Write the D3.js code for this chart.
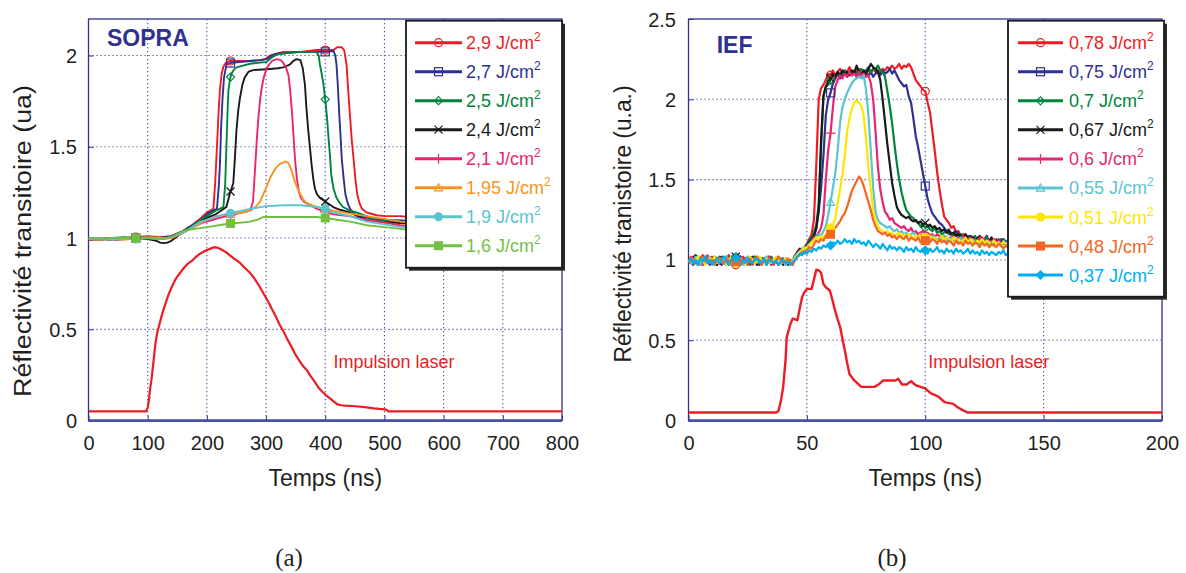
<!DOCTYPE html>
<html><head><meta charset="utf-8">
<script src="https://cdn.jsdelivr.net/npm/d3@7"></script>
<style>
body{margin:0;background:#fff}
svg{display:block}
</style>
</head><body>
<svg id="c" width="1186" height="573"></svg>
<script>
// ---------------- DATA ----------------
// Panel (a) SOPRA : time (ns), reflectivity
const sopraLabels = ["2,9","2,7","2,5","2,4","2,1","1,95","1,9","1,6"];
const sopra29 = [[0,0.99],[20,1.0],[40,0.995],[60,1.0],[80,1.005],[100,1.01],[120,1.005],[140,1.01],[160,1.04],[175,1.07],[190,1.11],[200,1.14],[211,1.16],[214,1.3],[217,1.5],[220,1.7],[222,1.81],[225,1.9],[228,1.94],[232,1.96],[239,1.97],[260,1.97],[273,1.97],[290,1.975],[298,1.98],[307,2.0],[318,2.01],[329,2.02],[358,2.02],[385,2.03],[414,2.03],[420,2.045],[428,2.045],[432,2.03],[436,1.95],[439,1.8],[442,1.66],[445,1.53],[448,1.43],[451,1.32],[454,1.24],[458,1.19],[462,1.16],[470,1.14],[487,1.125],[500,1.12],[527,1.12],[540,1.115]];
const sopra27 = [[0,0.995],[20,0.99],[40,1.0],[60,0.995],[80,1.0],[100,1.005],[120,1.0],[140,1.01],[160,1.04],[175,1.07],[190,1.1],[200,1.13],[210,1.15],[217,1.16],[220,1.28],[222,1.4],[224,1.6],[226.5,1.77],[229,1.88],[233,1.95],[241,1.96],[260,1.965],[273,1.97],[290,1.975],[301,1.98],[310,2.0],[318,2.01],[340,2.015],[358,2.02],[400,2.02],[414,2.025],[417,2.0],[419,1.95],[421,1.85],[424,1.66],[426,1.55],[428,1.43],[431,1.33],[434,1.24],[438,1.19],[442,1.16],[450,1.13],[459,1.12],[480,1.105],[498,1.1],[540,1.095]];
const sopra25 = [[0,1.0],[20,0.995],[40,1.0],[60,1.005],[80,1.0],[100,1.0],[120,0.995],[140,1.005],[160,1.035],[175,1.065],[190,1.1],[200,1.12],[215,1.15],[228,1.17],[231,1.3],[233,1.5],[235,1.7],[236.5,1.81],[239,1.87],[241.5,1.9],[245,1.92],[250,1.935],[273,1.955],[301,1.965],[310,1.99],[318,2.005],[340,2.015],[358,2.02],[385,2.02],[389,2.0],[391,1.95],[394,1.9],[397,1.84],[400,1.76],[403,1.66],[405,1.57],[408,1.45],[410,1.35],[414,1.27],[419,1.22],[425,1.19],[430,1.17],[442,1.15],[453,1.14],[470,1.12],[481,1.1],[510,1.09],[540,1.085]];
const sopra24 = [[0,0.99],[20,0.995],[40,0.99],[60,0.995],[80,1.0],[100,0.995],[115,0.985],[121,0.975],[128,0.972],[133,0.975],[140,0.985],[150,1.01],[160,1.035],[175,1.06],[190,1.09],[200,1.11],[215,1.13],[233,1.17],[239,1.245],[244.6,1.3],[247,1.42],[250,1.59],[253,1.7],[256,1.77],[260,1.84],[264,1.88],[270,1.91],[278,1.92],[301,1.925],[320,1.93],[329,1.935],[340,1.95],[346,1.97],[351.5,1.98],[358,1.975],[362,1.93],[365.7,1.84],[368,1.72],[371,1.6],[374,1.5],[377,1.4],[380,1.32],[382.6,1.27],[386,1.24],[391,1.22],[400,1.2],[413.5,1.17],[425,1.155],[441.6,1.14],[455,1.12],[470,1.1],[497.6,1.087],[540,1.08]];
const sopra21 = [[0,0.99],[20,1.0],[40,0.99],[60,0.995],[80,1.0],[100,1.0],[120,0.995],[140,1.0],[160,1.03],[175,1.055],[190,1.08],[200,1.09],[220,1.11],[245,1.13],[260,1.14],[273,1.15],[278,1.2],[281.6,1.39],[284,1.52],[287,1.66],[290,1.76],[293,1.83],[297,1.89],[301,1.93],[305,1.95],[310,1.97],[318,1.98],[325,1.975],[329,1.96],[334,1.93],[338,1.89],[341,1.8],[343.6,1.7],[346,1.58],[349,1.43],[352,1.33],[355,1.26],[359,1.22],[363.6,1.2],[375,1.18],[386,1.16],[400,1.145],[414,1.13],[440,1.12],[470,1.1],[500,1.085],[527,1.07],[540,1.065]];
const sopra195 = [[0,0.995],[20,0.99],[40,1.0],[60,0.99],[80,1.0],[100,1.005],[120,1.0],[140,1.0],[160,1.03],[175,1.055],[189,1.08],[200,1.1],[216.7,1.12],[240,1.13],[260,1.14],[273,1.15],[282,1.17],[290,1.2],[298,1.26],[307,1.33],[312,1.36],[318,1.39],[323,1.405],[329,1.415],[334,1.42],[338,1.41],[342,1.38],[346.6,1.33],[352,1.28],[358,1.24],[363,1.21],[369,1.19],[377,1.18],[386,1.17],[400,1.16],[414,1.15],[440,1.135],[470,1.12],[500,1.105],[527,1.09],[540,1.085]];
const sopra19 = [[0,0.995],[20,1.0],[40,0.99],[60,1.0],[80,0.995],[100,1.0],[120,0.995],[140,1.005],[160,1.03],[175,1.06],[189,1.09],[200,1.1],[216.7,1.12],[245,1.14],[273,1.16],[301,1.175],[329,1.18],[358,1.18],[386,1.17],[400,1.16],[414,1.14],[442,1.12],[470,1.09],[500,1.075],[527,1.06],[540,1.055]];
const sopra16 = [[0,1.0],[20,0.995],[40,1.0],[60,1.0],[80,1.0],[100,1.0],[120,0.995],[140,1.005],[160,1.04],[180,1.05],[200,1.06],[220,1.07],[239,1.08],[260,1.085],[273,1.09],[285,1.1],[295,1.115],[310,1.115],[329,1.115],[360,1.115],[386,1.115],[400,1.11],[420,1.1],[442,1.09],[470,1.07],[500,1.06],[527,1.05],[540,1.045]];
const sopraLaser = [[0,0.05],[97,0.05],[100,0.07],[102,0.11],[104,0.17],[107,0.24],[110,0.33],[113,0.42],[116,0.48],[120,0.53],[125,0.59],[129,0.63],[134,0.68],[139,0.72],[144,0.755],[149,0.785],[155,0.81],[162,0.84],[168,0.86],[175,0.876],[181,0.895],[188,0.913],[194,0.925],[200,0.935],[206,0.942],[212,0.95],[217,0.948],[223,0.94],[231,0.925],[239,0.905],[247,0.885],[255,0.867],[263,0.84],[272,0.813],[280,0.78],[288,0.74],[296,0.695],[304,0.65],[310,0.61],[317,0.567],[323,0.525],[330,0.485],[336,0.445],[343,0.404],[349,0.365],[356,0.33],[362,0.3],[369,0.276],[375,0.245],[382,0.213],[388,0.183],[395,0.158],[401,0.14],[408,0.122],[414,0.105],[420,0.09],[427,0.084],[433,0.082],[446,0.08],[459,0.076],[470,0.072],[482,0.067],[492,0.064],[501,0.062],[505,0.055],[507,0.05],[800,0.05]];
const sopraMarkerTimes = [80, 240, 400];
const sopraXTicks = [0,100,200,300,400,500,600,700,800];
const sopraYTicks = [0,0.5,1,1.5,2];
const sopraYTickLabels = ["0","0.5","1","1.5","2"];

// Panel (b) IEF : values sampled every 1 ns from 0 to 136 ns
const iefTime = d3.range(0, 137);
const iefLabels = ["0,78","0,75","0,7","0,67","0,6","0,55","0,51","0,48","0,37"];
const ief078 = [0.98,1.00,1.02,0.99,0.97,1.01,1.03,1.00,0.98,0.99, 1.02,1.00,0.97,0.99,1.01,0.98,1.00,1.03,1.00,0.98, 0.97,1.01,1.00,0.98,0.99,1.02,1.00,0.97,0.99,1.02, 1.00,0.98,1.01,1.00,0.99,0.97,0.99,1.01,1.02,0.98, 0.99,1.01,0.98,1.00,0.98,1.01,1.03,1.04,1.05,1.07, 1.10,1.13,1.16,1.25,1.60,2.00,2.07,2.09,2.12,2.16, 2.15,2.18,2.15,2.17,2.19,2.16,2.18,2.17,2.20,2.16, 2.18,2.17,2.19,2.16,2.18,2.17,2.18,2.16,2.19,2.17, 2.18,2.17,2.19,2.18,2.20,2.19,2.21,2.19,2.20,2.22, 2.19,2.21,2.20,2.22,2.20,2.16,2.12,2.10,2.08,2.06, 2.05,1.98,1.92,1.80,1.68,1.55,1.44,1.35,1.27,1.25, 1.23,1.20,1.21,1.17,1.18,1.15,1.16,1.14,1.15,1.13, 1.14,1.12,1.13,1.11,1.14,1.12,1.13,1.10,1.12,1.11, 1.13,1.10,1.11,1.12,1.10,1.11,1.10];
const ief075 = [1.01,0.99,0.97,1.00,1.02,0.99,0.98,1.01,1.00,0.97, 0.99,1.02,1.01,0.98,0.97,1.00,1.02,0.99,0.98,1.01, 1.00,0.98,1.02,0.99,0.97,1.00,1.01,0.99,1.02,0.98, 0.97,1.00,0.99,1.02,1.00,0.98,1.00,0.99,0.97,1.00, 1.01,0.98,0.97,0.99,0.98,1.02,1.04,1.05,1.07,1.06, 1.09,1.11,1.12,1.15,1.20,1.30,1.45,1.65,1.90,2.00, 2.04,2.10,2.13,2.16,2.13,2.15,2.17,2.14,2.16,2.15, 2.17,2.14,2.16,2.15,2.13,2.16,2.15,2.17,2.14,2.16, 2.17,2.15,2.18,2.16,2.17,2.19,2.16,2.18,2.15,2.12, 2.10,2.08,2.09,2.02,1.98,1.88,1.77,1.70,1.62,1.54, 1.46,1.38,1.33,1.29,1.27,1.25,1.23,1.22,1.20,1.18, 1.19,1.16,1.17,1.18,1.15,1.16,1.14,1.15,1.13,1.14, 1.12,1.13,1.14,1.11,1.12,1.13,1.15,1.11,1.12,1.10, 1.12,1.11,1.13,1.10,1.11,1.12,1.10];
const ief070 = [0.99,1.01,1.00,0.98,1.02,1.00,0.97,0.99,1.01,1.00, 0.98,1.01,0.99,1.02,1.00,0.98,0.97,1.01,0.99,1.00, 1.02,0.99,0.98,1.00,1.01,0.99,0.97,1.00,1.02,0.99, 0.98,1.01,0.99,0.97,1.00,1.02,0.98,1.00,0.99,1.01, 0.98,1.00,0.99,0.98,1.00,1.03,1.05,1.06,1.05,1.08, 1.10,1.12,1.14,1.17,1.22,1.35,1.70,2.02,2.08,2.09, 2.12,2.15,2.14,2.17,2.15,2.16,2.18,2.15,2.17,2.16, 2.18,2.16,2.17,2.19,2.16,2.18,2.20,2.17,2.19,2.18, 2.21,2.18,2.17,2.14,2.05,1.96,1.85,1.72,1.60,1.50, 1.42,1.36,1.31,1.29,1.27,1.26,1.24,1.23,1.21,1.22, 1.20,1.21,1.19,1.18,1.20,1.17,1.18,1.16,1.17,1.18, 1.16,1.17,1.15,1.16,1.14,1.16,1.15,1.13,1.15,1.14, 1.13,1.15,1.12,1.14,1.13,1.12,1.14,1.11,1.13,1.12, 1.11,1.13,1.12,1.10,1.12,1.11,1.12];
const ief067 = [1.00,0.98,1.01,1.03,0.99,0.97,1.00,1.02,0.99,0.98, 1.01,0.99,0.97,1.00,1.02,1.00,0.98,1.00,1.01,0.99, 1.02,1.00,0.98,0.99,1.01,0.98,1.00,1.02,0.99,0.97, 0.99,1.01,1.00,0.98,1.02,0.99,0.98,1.00,1.01,0.99, 0.97,1.00,0.98,0.99,0.97,1.02,1.05,1.07,1.06,1.08, 1.09,1.11,1.13,1.15,1.20,1.32,1.75,2.02,2.08,2.11, 2.13,2.16,2.14,2.17,2.15,2.18,2.16,2.17,2.15,2.18, 2.16,2.21,2.17,2.15,2.18,2.16,2.19,2.22,2.20,2.19, 2.17,2.12,2.00,1.86,1.72,1.60,1.48,1.40,1.33,1.30, 1.28,1.27,1.26,1.27,1.25,1.24,1.25,1.23,1.24,1.22, 1.23,1.21,1.22,1.20,1.21,1.19,1.20,1.18,1.19,1.17, 1.18,1.16,1.17,1.15,1.16,1.15,1.14,1.16,1.13,1.15, 1.14,1.12,1.13,1.15,1.12,1.13,1.11,1.12,1.14,1.11, 1.12,1.10,1.11,1.13,1.10,1.11,1.12];
const ief060 = [0.99,1.02,1.00,0.98,1.01,0.99,0.97,1.00,1.03,1.00, 0.98,0.99,1.01,1.00,0.98,1.02,0.99,0.97,1.00,1.01, 0.99,0.98,1.00,1.02,1.00,0.97,0.99,1.01,1.00,0.98, 1.01,0.99,0.98,1.00,1.02,0.99,0.97,1.00,1.01,0.98, 1.00,0.99,0.98,1.00,0.98,1.03,1.04,1.06,1.05,1.07, 1.09,1.10,1.12,1.14,1.15,1.17,1.20,1.28,1.50,1.68, 1.79,1.95,2.08,2.12,2.15,2.13,2.16,2.14,2.17,2.15, 2.16,2.14,2.17,2.15,2.16,2.14,2.15,2.10,2.00,1.80, 1.58,1.44,1.36,1.30,1.28,1.25,1.26,1.23,1.22,1.21, 1.20,1.21,1.19,1.18,1.20,1.17,1.18,1.16,1.17,1.18, 1.16,1.17,1.15,1.16,1.14,1.16,1.15,1.13,1.15,1.14, 1.13,1.15,1.14,1.12,1.14,1.13,1.15,1.12,1.13,1.14, 1.12,1.13,1.11,1.14,1.12,1.13,1.10,1.12,1.11,1.13, 1.11,1.12,1.10,1.12,1.11,1.10,1.12];
const ief055 = [1.00,0.98,0.99,1.02,1.00,0.97,1.01,0.99,1.00,1.02, 0.99,0.97,1.00,1.01,0.99,0.98,1.02,1.00,0.97,0.99, 1.01,1.00,0.98,0.97,1.00,1.02,0.99,0.98,1.01,1.00, 0.99,0.97,1.00,1.02,0.98,1.00,0.99,1.01,0.98,1.00, 0.99,0.97,1.00,0.98,0.99,1.02,1.04,1.05,1.07,1.06, 1.08,1.10,1.11,1.13,1.14,1.16,1.15,1.18,1.21,1.28, 1.36,1.45,1.54,1.68,1.85,1.95,2.00,2.04,2.07,2.10, 2.12,2.13,2.14,2.13,2.15,2.06,1.90,1.68,1.45,1.30, 1.25,1.23,1.22,1.21,1.20,1.21,1.19,1.18,1.19,1.17, 1.18,1.16,1.17,1.15,1.16,1.17,1.15,1.14,1.16,1.15, 1.14,1.15,1.13,1.15,1.14,1.12,1.14,1.13,1.15,1.12, 1.13,1.14,1.12,1.13,1.11,1.14,1.12,1.13,1.11,1.12, 1.13,1.11,1.12,1.10,1.13,1.11,1.12,1.10,1.11,1.12, 1.10,1.11,1.09,1.12,1.10,1.11,1.09];
const ief051 = [0.99,1.01,0.98,1.00,1.02,0.99,1.00,0.97,0.99,1.01, 1.00,1.02,0.98,0.99,1.01,1.00,0.97,0.99,1.02,1.00, 0.98,1.00,1.01,0.99,0.97,1.00,1.02,1.00,0.98,0.99, 1.02,1.00,0.98,1.01,0.99,0.98,1.00,1.02,0.99,0.98, 1.00,1.01,0.99,0.97,1.00,1.01,1.03,1.05,1.06,1.08, 1.07,1.09,1.11,1.12,1.14,1.13,1.15,1.14,1.16,1.18, 1.20,1.22,1.26,1.35,1.44,1.53,1.65,1.80,1.88,1.94, 1.98,1.99,1.98,1.96,1.90,1.75,1.58,1.44,1.31,1.25, 1.21,1.19,1.18,1.17,1.18,1.16,1.17,1.15,1.16,1.17, 1.15,1.16,1.14,1.16,1.15,1.13,1.15,1.14,1.16,1.13, 1.14,1.12,1.15,1.13,1.14,1.12,1.13,1.15,1.12,1.14, 1.13,1.11,1.14,1.12,1.13,1.11,1.12,1.14,1.11,1.13, 1.12,1.10,1.12,1.11,1.13,1.10,1.12,1.11,1.09,1.12, 1.10,1.11,1.09,1.11,1.10,1.08,1.10];
const ief048 = [0.98,1.00,1.01,0.99,0.97,1.00,1.02,0.99,1.01,0.98, 1.00,0.97,0.99,1.01,1.00,0.98,1.01,0.99,1.00,0.97, 0.99,1.02,1.00,0.98,1.00,0.99,1.01,0.98,1.00,1.02, 0.99,0.97,1.00,0.99,1.01,1.00,0.98,0.99,1.02,1.00, 0.98,0.99,1.01,0.98,0.97,1.00,1.02,1.03,1.05,1.04, 1.06,1.08,1.07,1.10,1.12,1.11,1.13,1.12,1.15,1.14, 1.16,1.19,1.20,1.22,1.24,1.27,1.29,1.33,1.38,1.43, 1.46,1.49,1.52,1.50,1.46,1.41,1.36,1.31,1.25,1.21, 1.18,1.17,1.16,1.17,1.15,1.16,1.14,1.15,1.13,1.15, 1.14,1.13,1.15,1.12,1.14,1.13,1.12,1.14,1.11,1.13, 1.12,1.14,1.11,1.13,1.12,1.10,1.13,1.11,1.12,1.10, 1.12,1.11,1.09,1.12,1.10,1.11,1.09,1.12,1.10,1.11, 1.09,1.11,1.10,1.08,1.11,1.09,1.10,1.08,1.10,1.09, 1.08,1.10,1.09,1.07,1.09,1.08,1.09];
const ief037 = [0.99,1.01,0.98,1.00,0.97,1.01,0.99,1.02,0.98,1.00, 0.97,0.99,1.01,0.98,1.00,1.02,0.99,0.97,1.00,0.98, 1.01,0.99,0.97,1.00,0.98,1.01,0.99,0.98,1.00,1.01, 0.98,0.99,1.01,0.97,1.00,0.99,0.98,1.00,0.97,0.99, 1.00,0.98,0.99,0.97,0.99,1.00,1.02,1.04,1.03,1.05, 1.04,1.06,1.05,1.07,1.06,1.08,1.07,1.09,1.08,1.10, 1.09,1.11,1.10,1.12,1.10,1.11,1.13,1.11,1.12,1.10, 1.13,1.11,1.12,1.10,1.11,1.09,1.12,1.10,1.08,1.10, 1.09,1.07,1.10,1.08,1.06,1.09,1.07,1.08,1.06,1.08, 1.07,1.05,1.08,1.06,1.07,1.05,1.08,1.06,1.05,1.07, 1.06,1.04,1.07,1.05,1.06,1.08,1.05,1.06,1.04,1.07, 1.05,1.06,1.04,1.07,1.05,1.06,1.04,1.05,1.07,1.04, 1.06,1.04,1.05,1.03,1.06,1.04,1.05,1.03,1.05,1.04, 1.03,1.05,1.04,1.06,1.03,1.04,1.03];
const iefLaser = [[0,0.05],[37,0.05],[38,0.06],[39,0.12],[40,0.21],[41,0.38],[41.5,0.52],[43,0.6],[44,0.635],[45,0.63],[46,0.625],[47,0.7],[48,0.77],[49,0.8],[50,0.82],[52,0.82],[53,0.88],[54,0.94],[55,0.935],[56,0.92],[57,0.85],[58,0.83],[59.7,0.81],[61,0.74],[61.8,0.69],[63,0.63],[64.1,0.58],[65,0.51],[66,0.44],[67,0.36],[68,0.29],[69,0.27],[70,0.25],[71.5,0.23],[73,0.21],[76,0.21],[78.7,0.21],[80.7,0.23],[82.3,0.25],[85,0.25],[87.4,0.25],[88.6,0.26],[90.2,0.225],[92.1,0.225],[94,0.245],[96,0.22],[98,0.21],[100,0.2],[102.4,0.17],[104,0.16],[105.5,0.15],[107,0.13],[108.2,0.115],[111.8,0.104],[113.5,0.085],[115.8,0.065],[118,0.05],[119.7,0.05],[200,0.05]];
const iefMarkerTimes = [20, 60, 100];
const iefXTicks = [0,50,100,150,200];
const iefYTicks = [0,0.5,1,1.5,2,2.5];
const iefYTickLabels = ["0","0.5","1","1.5","2","2.5"];

// ---------------- STYLES ----------------
const sopraColors = ["#ed1c24","#2e3192","#00843d","#1a1a1a","#e8266f","#f7941d","#5ac4d0","#72bf44"];
const sopraMarkers = ["circle","square","diamond","x","plus","triangle","dot","fsquare"];
const iefColors = ["#ed1c24","#2e3192","#00843d","#1a1a1a","#e8266f","#5ac4d0","#ffe600","#f26522","#00aeef"];
const iefMarkers = ["circle","square","diamond","x","plus","triangle","dot","fsquare","fdiamond"];
const frameColor = "#2e3192";
const gridColor = "#3b47a8";
const textColor = "#231f20";
const laserColor = "#ed1c24";
const sansFont = '"Liberation Sans",Arial,Helvetica,sans-serif';
const serifFont = '"Liberation Serif","DejaVu Serif","Times New Roman",serif';

// ---------------- DRAWING ----------------
const svg = d3.select("#c");
svg.append("rect").attr("width",1186).attr("height",573).attr("fill","#fff");

function interpAt(series, t){
  for (let i=1;i<series.length;i++){
    if (series[i][0] >= t){
      const [t0,v0] = series[i-1], [t1,v1] = series[i];
      return v0 + (v1-v0)*(t-t0)/(t1-t0);
    }
  }
  return series[series.length-1][1];
}

function marker(g, type, cx, cy, color, s){
  const sw = 1.2;
  if (type==="circle") g.append("circle").attr("cx",cx).attr("cy",cy).attr("r",s).attr("fill","none").attr("stroke",color).attr("stroke-width",sw);
  else if (type==="square") g.append("rect").attr("x",cx-s).attr("y",cy-s).attr("width",2*s).attr("height",2*s).attr("fill","none").attr("stroke",color).attr("stroke-width",sw);
  else if (type==="diamond") g.append("path").attr("d",`M${cx},${cy-s}L${cx+s},${cy}L${cx},${cy+s}L${cx-s},${cy}Z`).attr("fill","none").attr("stroke",color).attr("stroke-width",sw);
  else if (type==="x") g.append("path").attr("d",`M${cx-s},${cy-s}L${cx+s},${cy+s}M${cx-s},${cy+s}L${cx+s},${cy-s}`).attr("stroke",color).attr("stroke-width",sw);
  else if (type==="plus") g.append("path").attr("d",`M${cx-s-1},${cy}L${cx+s+1},${cy}M${cx},${cy-s-1}L${cx},${cy+s+1}`).attr("stroke",color).attr("stroke-width",sw);
  else if (type==="triangle") g.append("path").attr("d",`M${cx},${cy-s}L${cx+s},${cy+s*0.8}L${cx-s},${cy+s*0.8}Z`).attr("fill","none").attr("stroke",color).attr("stroke-width",sw);
  else if (type==="dot") g.append("circle").attr("cx",cx).attr("cy",cy).attr("r",s+0.5).attr("fill",color);
  else if (type==="fsquare") g.append("rect").attr("x",cx-s-0.5).attr("y",cy-s-0.5).attr("width",2*s+1).attr("height",2*s+1).attr("fill",color);
  else if (type==="fdiamond") g.append("path").attr("d",`M${cx},${cy-s-1}L${cx+s+1},${cy}L${cx},${cy+s+1}L${cx-s-1},${cy}Z`).attr("fill",color);
}

function panel(cfg){
  const x = d3.scaleLinear().domain(cfg.xDomain).range([cfg.left, cfg.right]);
  const y = d3.scaleLinear().domain(cfg.yDomain).range([cfg.bottom, cfg.top]);
  const g = svg.append("g").style("font-family", sansFont);
  const clipId = "clip-"+cfg.id;
  svg.append("clipPath").attr("id",clipId).append("rect")
    .attr("x",cfg.left).attr("y",cfg.top).attr("width",cfg.right-cfg.left).attr("height",cfg.bottom-cfg.top);

  // grid
  g.append("g").selectAll("line").data(cfg.xTicks.filter(d=>d>cfg.xDomain[0]&&d<cfg.xDomain[1])).join("line")
    .attr("x1",d=>x(d)).attr("x2",d=>x(d)).attr("y1",cfg.top).attr("y2",cfg.bottom)
    .attr("stroke",gridColor).attr("stroke-width",1.1).attr("stroke-dasharray","1.2,2.8");
  g.append("g").selectAll("line").data(cfg.yTicks.filter(d=>d>cfg.yDomain[0]&&d<cfg.yDomain[1])).join("line")
    .attr("y1",d=>y(d)).attr("y2",d=>y(d)).attr("x1",cfg.left).attr("x2",cfg.right)
    .attr("stroke",gridColor).attr("stroke-width",1.1).attr("stroke-dasharray","1.2,2.8");

  // axes
  const ax = g.append("g").attr("transform",`translate(0,${cfg.bottom})`)
    .call(d3.axisBottom(x).tickValues(cfg.xTicks).tickFormat(d3.format("d")).tickSizeInner(-5).tickSizeOuter(0).tickPadding(15));
  const ay = g.append("g").attr("transform",`translate(${cfg.left},0)`)
    .call(d3.axisLeft(y).tickValues(cfg.yTicks).tickFormat((d,i)=>cfg.yTickLabels[i]).tickSizeInner(-5).tickSizeOuter(0).tickPadding(cfg.yPad));
  [ax,ay].forEach(a=>{
    a.attr("font-family", null).attr("font-size", null);
    a.select(".domain").remove();
    a.selectAll(".tick line").attr("stroke",frameColor).attr("stroke-width",1);
    a.selectAll("text").attr("font-size",20).attr("fill",textColor).style("font-family", sansFont);
  });
  ay.selectAll("text").attr("dy","0.35em");

  // frame
  g.append("rect").attr("x",cfg.left).attr("y",cfg.top).attr("width",cfg.right-cfg.left).attr("height",cfg.bottom-cfg.top)
    .attr("fill","none").attr("stroke",frameColor).attr("stroke-width",1.3);
  g.append("line").attr("x1",cfg.left).attr("x2",cfg.right).attr("y1",cfg.bottom).attr("y2",cfg.bottom)
    .attr("stroke","#4650a8").attr("stroke-width",2.6);

  // data
  const line = d3.line().x(d=>x(d[0])).y(d=>y(d[1]));
  const dg = g.append("g").attr("clip-path",`url(#${clipId})`);
  dg.append("path").datum(cfg.laser).attr("d",line).attr("fill","none")
    .attr("stroke",laserColor).attr("stroke-width",cfg.laserWidth).attr("stroke-linejoin","round");
  cfg.series.forEach((s,i)=>{
    dg.append("path").datum(s).attr("d",line).attr("fill","none")
      .attr("stroke",cfg.colors[i]).attr("stroke-width",cfg.lineWidth).attr("stroke-linejoin","round");
  });
  cfg.series.forEach((s,i)=>{
    cfg.markerTimes.forEach(t=>{
      marker(dg, cfg.markers[i], x(t), y(interpAt(s,t)), cfg.colors[i], 4);
    });
  });

  // annotations
  g.append("text").attr("x",x(cfg.laserLabelPos[0])).attr("y",y(cfg.laserLabelPos[1]))
    .attr("font-size",18).attr("fill",laserColor).text("Impulsion laser");
  g.append("text").attr("x",cfg.titlePos[0]).attr("y",cfg.titlePos[1])
    .attr("font-size",23).attr("font-weight","bold").attr("fill","#2e3192").text(cfg.title);

  // axis labels
  g.append("text").attr("x",(cfg.left+cfg.right)/2).attr("y",486).attr("text-anchor","middle")
    .attr("font-size",23).attr("fill",textColor).text("Temps (ns)");
  g.append("text").attr("transform",`translate(${cfg.yLabelX},${cfg.yLabelY}) rotate(-90)`)
    .attr("text-anchor","middle").attr("dy","0.35em").attr("font-size",23).attr("fill",textColor)
    .attr("textLength",cfg.yLabelLen).attr("lengthAdjust","spacingAndGlyphs").text(cfg.yLabel);

  // legend
  const L = cfg.legend;
  const lg = g.append("g");
  lg.append("rect").attr("x",L.x+3).attr("y",L.y+3).attr("width",L.w).attr("height",L.h).attr("fill","#2a2a2a");
  lg.append("rect").attr("x",L.x).attr("y",L.y).attr("width",L.w).attr("height",L.h)
    .attr("fill","#fff").attr("stroke","#1a1a1a").attr("stroke-width",1.8);
  cfg.labels.forEach((lab,i)=>{
    const cy = L.row0 + i*L.step;
    lg.append("line").attr("x1",L.lx0).attr("x2",L.lx1).attr("y1",cy).attr("y2",cy)
      .attr("stroke",cfg.colors[i]).attr("stroke-width",3);
    marker(lg, cfg.markers[i], (L.lx0+L.lx1)/2, cy, cfg.colors[i], 4);
    const t = lg.append("text").attr("x",L.tx).attr("y",cy+6.5).attr("font-size",18).attr("fill",cfg.colors[i]);
    t.append("tspan").text(lab+" J/cm");
    t.append("tspan").attr("font-size",12).attr("dy",-8).text("2");
  });
}

panel({
  id:"a", left:88.5, right:562, top:19, bottom:420.6,
  xDomain:[0,800], yDomain:[0,2.2], xTicks:sopraXTicks, yTicks:sopraYTicks, yTickLabels:sopraYTickLabels, yPad:11.5,
  series:[sopra29,sopra27,sopra25,sopra24,sopra21,sopra195,sopra19,sopra16],
  colors:sopraColors, markers:sopraMarkers, markerTimes:sopraMarkerTimes, labels:sopraLabels,
  laser:sopraLaser, laserWidth:2.2, lineWidth:1.9,
  laserLabelPos:[414,0.288], title:"SOPRA", titlePos:[107,46],
  yLabel:"Réflectivité transitoire (ua)", yLabelX:22.5, yLabelY:241, yLabelLen:312,
  legend:{x:406,y:20.7,w:156,h:247,row0:42.7,step:29.0,lx0:415,lx1:462,tx:466}
});

panel({
  id:"b", left:688.5, right:1162, top:19, bottom:420.6,
  xDomain:[0,200], yDomain:[0,2.5], xTicks:iefXTicks, yTicks:iefYTicks, yTickLabels:iefYTickLabels, yPad:12.5,
  series:[ief078,ief075,ief070,ief067,ief060,ief055,ief051,ief048,ief037].map(v=>v.map((d,i)=>[iefTime[i],d])),
  colors:iefColors, markers:iefMarkers, markerTimes:iefMarkerTimes, labels:iefLabels,
  laser:iefLaser, laserWidth:2.4, lineWidth:2.2,
  laserLabelPos:[101.3,0.3275], title:"IEF", titlePos:[716.7,53],
  yLabel:"Réflectivité tranistoire (u.a.)", yLabelX:622.5, yLabelY:224, yLabelLen:277,
  legend:{x:1008,y:20.7,w:156,h:276,row0:42.7,step:29.05,lx0:1018,lx1:1063,tx:1069}
});

// captions
svg.append("text").attr("x",289).attr("y",566).attr("text-anchor","middle")
  .style("font-family",serifFont).attr("font-size",25).attr("fill",textColor).text("(a)");
svg.append("text").attr("x",892).attr("y",566).attr("text-anchor","middle")
  .style("font-family",serifFont).attr("font-size",25).attr("fill",textColor).text("(b)");
</script>
</body></html>
